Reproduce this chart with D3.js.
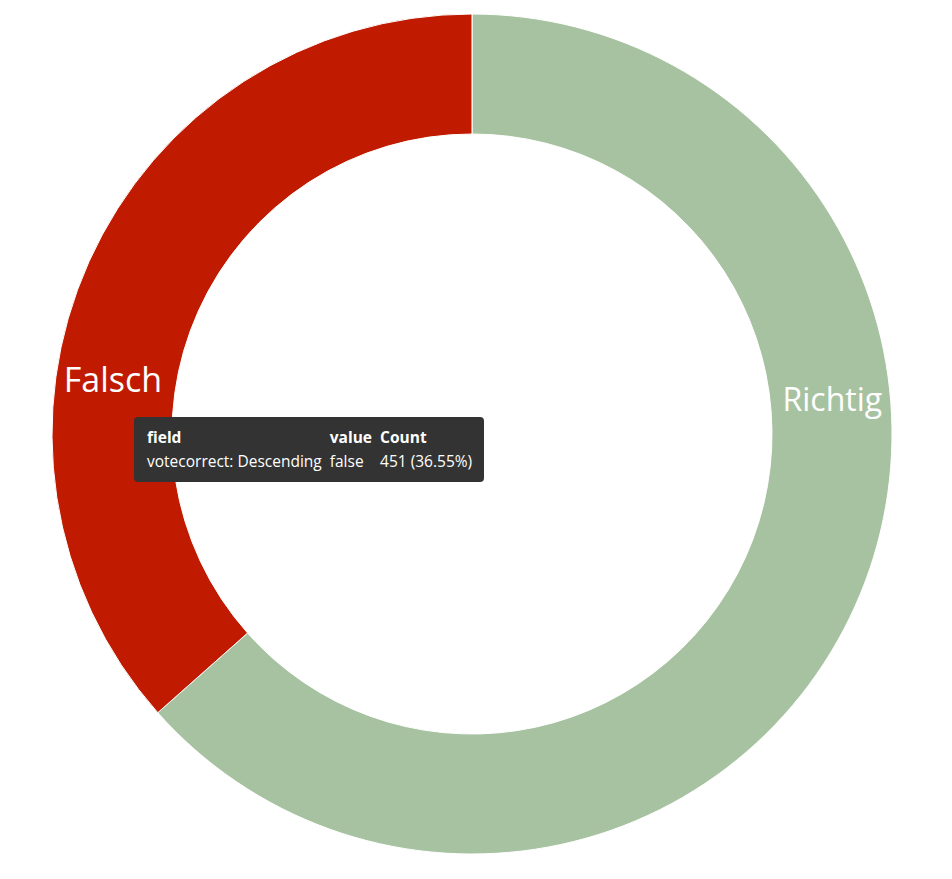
<!DOCTYPE html>
<html><head><meta charset="utf-8">
<script src="https://cdn.jsdelivr.net/npm/d3@7"></script>
<style>
html,body{margin:0;padding:0;background:#fff;}
#tt{position:absolute;left:134px;top:417px;width:350px;height:65px;box-sizing:border-box;background:#333;border-radius:4px;color:#fff;font-family:"Open Sans",sans-serif;font-size:15.5px;padding:8px 12px 0 13px;}
#tt table{border-collapse:collapse;}
#tt td{padding:0 8px 0 0;line-height:24px;white-space:nowrap;}
#tt td.h{font-weight:bold;}
</style></head>
<body>
<svg id="c" width="952" height="879"></svg>
<div id="tt"></div>
<script>
const categories = ["Richtig", "Falsch"];
const values = [783, 451];
const colors = ["#a7c2a1", "#c01a00"];
const tooltipHeader = ["field", "value", "Count"];
const tooltipRow = ["votecorrect: Descending", "false", "451 (36.55%)"];

const svg = d3.select("#c");
const cx = 472, cy = 434, rOuter = 420, rInner = 300;
const g = svg.append("g").attr("transform", `translate(${cx},${cy})`);
const data = categories.map((c, i) => ({cat: c, value: values[i], color: colors[i]}));
const pie = d3.pie().value(d => d.value).sort(null);
const arcs = pie(data);
const arc = d3.arc().innerRadius(rInner).outerRadius(rOuter);
g.selectAll("path").data(arcs).join("path")
  .attr("d", arc).attr("fill", d => d.data.color)
  .attr("stroke", "#fff").attr("stroke-width", 1);

// label layout (style): angle, radius and size per label
const labelStyle = {
  Richtig: {angle: Math.PI/2 - 0.0955, r: 362, size: 32},
  Falsch:  {angle: -Math.PI/2 + 0.148, r: 363, size: 34}
};
g.selectAll("text").data(arcs).join("text")
  .attr("x", d => d3.pointRadial(labelStyle[d.data.cat].angle, labelStyle[d.data.cat].r)[0])
  .attr("y", d => d3.pointRadial(labelStyle[d.data.cat].angle, labelStyle[d.data.cat].r)[1])
  .attr("text-anchor", "middle").attr("dy", "0.35em")
  .attr("fill", "#fff").attr("font-family", "Open Sans, sans-serif")
  .attr("font-size", d => labelStyle[d.data.cat].size)
  .text(d => d.data.cat);

const t = d3.select("#tt").append("table");
t.append("tr").selectAll("td").data(tooltipHeader).join("td").attr("class", "h").text(d => d);
t.append("tr").selectAll("td").data(tooltipRow).join("td").text(d => d);
</script>
</body></html>
